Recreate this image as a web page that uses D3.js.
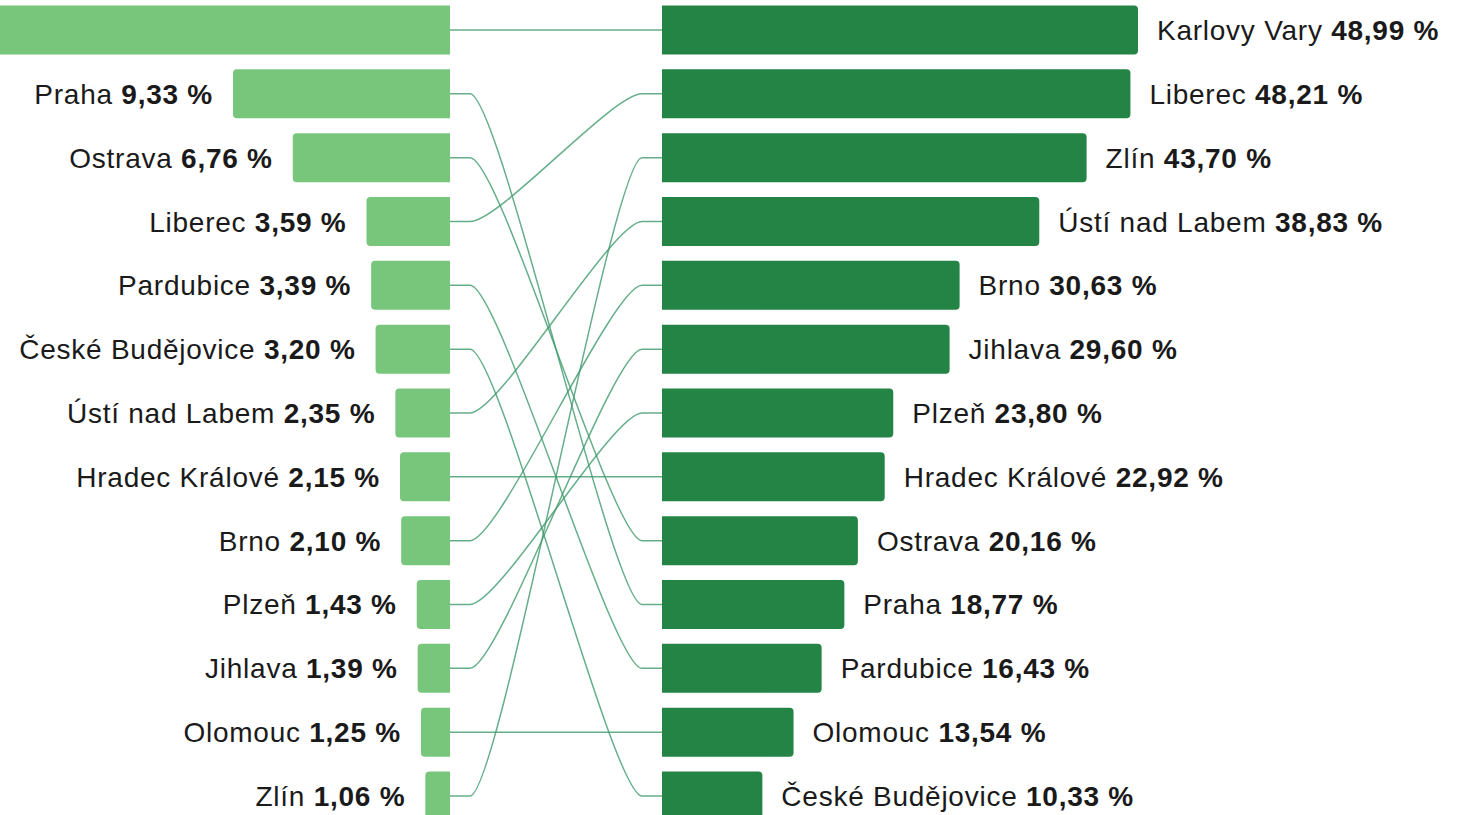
<!DOCTYPE html>
<html>
<head>
<meta charset="utf-8">
<script src="https://d3js.org/d3.v7.min.js"></script>
<style>
  body { margin: 0; background: white; }
  text { font-family: "Liberation Sans", Arial, sans-serif; font-size: 28px; fill: #1a1a1a; letter-spacing: 0.75px; }
</style>
</head>
<body>
<svg width="1465" height="815" id="MainSVG"></svg>
<script>
// left ranking (before) and right ranking (after)
var leftCities = ["Karlovy Vary", "Praha", "Ostrava", "Liberec", "Pardubice", "České Budějovice",
  "Ústí nad Labem", "Hradec Králové", "Brno", "Plzeň", "Jihlava", "Olomouc", "Zlín"];
var leftValues = [22.50, 9.33, 6.76, 3.59, 3.39, 3.20, 2.35, 2.15, 2.10, 1.43, 1.39, 1.25, 1.06];

var rightCities = ["Karlovy Vary", "Liberec", "Zlín", "Ústí nad Labem", "Brno", "Jihlava", "Plzeň",
  "Hradec Králové", "Ostrava", "Praha", "Pardubice", "Olomouc", "České Budějovice"];
var rightValues = [48.99, 48.21, 43.70, 38.83, 30.63, 29.60, 23.80, 22.92, 20.16, 18.77, 16.43, 13.54, 10.33];

var svg = d3.select("#MainSVG");

var leftEdge = 450, rightEdge = 662;

var ys = d3.scaleBand()
  .domain(d3.range(leftCities.length))
  .range([-1.9, 827.9])
  .paddingInner(0.232)
  .paddingOuter(0.116);

var lx = d3.scaleLinear().domain([0, 9.33]).range([0, 217]);
var rx = d3.scaleLinear().domain([0, 48.99]).range([0, 476]);

var fmt = function(v) { return d3.format(".2f")(v).replace(".", ",") + " %"; };

// bar with rounded outer corners
function barPath(x0, x1, y0, h, r, roundLeft) {
  var p = d3.path();
  if (roundLeft) {
    p.moveTo(x1, y0);
    p.lineTo(x0 + r, y0);
    p.arcTo(x0, y0, x0, y0 + r, r);
    p.lineTo(x0, y0 + h - r);
    p.arcTo(x0, y0 + h, x0 + r, y0 + h, r);
    p.lineTo(x1, y0 + h);
  } else {
    p.moveTo(x0, y0);
    p.lineTo(x1 - r, y0);
    p.arcTo(x1, y0, x1, y0 + r, r);
    p.lineTo(x1, y0 + h - r);
    p.arcTo(x1, y0 + h, x1 - r, y0 + h, r);
    p.lineTo(x0, y0 + h);
  }
  p.closePath();
  return p.toString();
}

// links between the two rankings
var links = svg.append("g");
leftCities.forEach(function(c, i) {
  var j = rightCities.indexOf(c);
  var y1 = ys(i) + ys.bandwidth() / 2, y2 = ys(j) + ys.bandwidth() / 2;
  links.append("path")
    .attr("d", "M" + leftEdge + "," + y1 + " H470 C500," + y1 + " 612," + y2 + " 642," + y2 + " H" + rightEdge)
    .attr("fill", "none")
    .attr("stroke", "#3f9a6c")
    .attr("stroke-opacity", 0.8)
    .attr("stroke-width", 1.5);
});

// left bars
svg.append("g").selectAll("path")
  .data(leftValues)
  .enter().append("path")
  .attr("d", function(d, i) { return barPath(leftEdge - lx(d), leftEdge, ys(i), ys.bandwidth(), 4, true); })
  .attr("fill", "#78c67b");

// labels of bars that run off the page are not shown
svg.append("g").selectAll("text")
  .data(leftValues.filter(function(d) { return leftEdge - lx(d) > 0; }))
  .enter().append("text")
  .attr("x", function(d) { return leftEdge - lx(d) - 20; })
  .attr("y", function(d) { var i = leftValues.indexOf(d); return ys(i) + ys.bandwidth() / 2 + 10; })
  .attr("text-anchor", "end")
  .each(function(d) {
    var i = leftValues.indexOf(d);
    var t = d3.select(this);
    t.append("tspan").text(leftCities[i] + " ");
    t.append("tspan").attr("font-weight", "bold").text(fmt(d));
  });

// right bars
svg.append("g").selectAll("path")
  .data(rightValues)
  .enter().append("path")
  .attr("d", function(d, i) { return barPath(rightEdge, rightEdge + rx(d), ys(i), ys.bandwidth(), 4, false); })
  .attr("fill", "#248446");

svg.append("g").selectAll("text")
  .data(rightValues)
  .enter().append("text")
  .attr("x", function(d) { return rightEdge + rx(d) + 19; })
  .attr("y", function(d, i) { return ys(i) + ys.bandwidth() / 2 + 10; })
  .each(function(d, i) {
    var t = d3.select(this);
    t.append("tspan").text(rightCities[i] + " ");
    t.append("tspan").attr("font-weight", "bold").text(fmt(d));
  });
</script>
</body>
</html>
